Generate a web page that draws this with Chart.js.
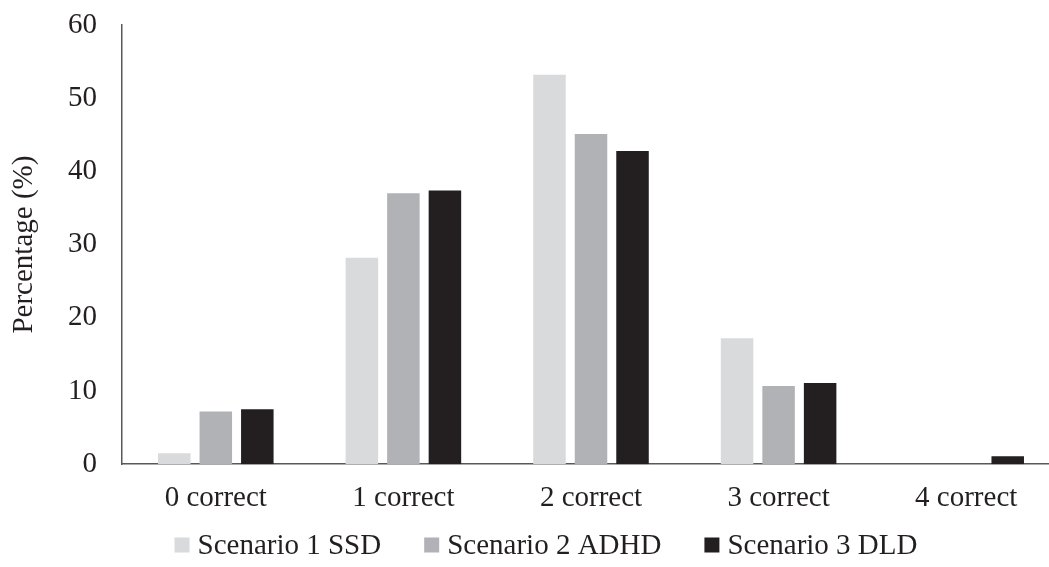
<!DOCTYPE html>
<html>
<head>
<meta charset="utf-8">
<script src="https://cdn.jsdelivr.net/npm/chart.js@4"></script>
<style>
  html, body { margin: 0; padding: 0; background: #ffffff; overflow: hidden; }
  #wrap { width: 1062px; height: 567px; }
</style>
</head>
<body>
<div id="wrap"><canvas id="chart" width="1062" height="567"></canvas></div>
<script>
// Share of respondents by number of correct answers, per scenario
const categories = ['0 correct', '1 correct', '2 correct', '3 correct', '4 correct'];
const seriesNames = ['Scenario 1 SSD', 'Scenario 2 ADHD', 'Scenario 3 DLD'];
const ssdValues = [1.5, 28.2, 53.2, 17.2, 0];
const adhdValues = [7.2, 37.0, 45.1, 10.7, 0];
const dldValues = [7.5, 37.4, 42.8, 11.1, 1.1];
const yTicks = [0, 10, 20, 30, 40, 50, 60];

const seriesColors = ['#d9dadc', '#b1b2b5', '#231f20'];
const fontFamily = '"Liberation Serif", "Times New Roman", serif';
const fontSize = 29;
const textColor = '#231f20';
const axisColor = '#595959';

const data = {
  labels: categories,
  datasets: [ssdValues, adhdValues, dldValues].map((vals, i) => ({
    label: seriesNames[i],
    data: vals,
    backgroundColor: seriesColors[i],
    borderWidth: 0,
    categoryPercentage: 0.664,
    barPercentage: 0.783
  }))
};

// Legend row under the axis: small square swatch followed by the series name
const bottomLegend = {
  id: 'bottomLegend',
  afterDraw(chart) {
    const ctx = chart.ctx;
    const box = 15, gap = 8, spacing = 43, rowY = 545, centerX = 546;
    ctx.save();
    ctx.font = fontSize + 'px ' + fontFamily;
    const items = chart.data.datasets.map(ds => ({
      text: ds.label,
      color: ds.backgroundColor,
      w: ctx.measureText(ds.label).width
    }));
    const total = items.reduce((s, it) => s + box + gap + it.w, 0) + spacing * (items.length - 1);
    let x = centerX - total / 2;
    ctx.textBaseline = 'middle';
    ctx.textAlign = 'left';
    items.forEach(it => {
      ctx.fillStyle = it.color;
      ctx.fillRect(x, rowY - box / 2, box, box);
      x += box + gap;
      ctx.fillStyle = textColor;
      ctx.fillText(it.text, x, rowY + 1);
      x += it.w + spacing;
    });
    ctx.restore();
  }
};

new Chart(document.getElementById('chart'), {
  type: 'bar',
  data: data,
  plugins: [bottomLegend],
  options: {
    responsive: false,
    animation: false,
    layout: { padding: { left: 0, right: 2, top: 25, bottom: 34 } },
    plugins: {
      tooltip: { enabled: false },
      legend: { display: false }
    },
    scales: {
      x: {
        grid: { display: false, drawTicks: false },
        border: { display: true, color: axisColor, width: 1.5 },
        ticks: {
          font: { family: fontFamily, size: fontSize },
          color: textColor,
          padding: 17,
          maxRotation: 0
        }
      },
      y: {
        min: 0,
        max: 60,
        afterBuildTicks: (scale) => { scale.ticks = yTicks.map(v => ({ value: v })); },
        afterFit: (scale) => { scale.width = 122; },
        // tick marks are hidden; their length only sets the gap between labels and axis
        grid: { display: false, drawTicks: true, tickLength: 25 },
        border: { display: true, color: axisColor, width: 1.5 },
        ticks: {
          font: { family: fontFamily, size: fontSize },
          color: textColor,
          padding: 0
        },
        title: {
          display: true,
          text: 'Percentage (%)',
          font: { family: fontFamily, size: fontSize },
          color: textColor,
          padding: { top: 7, bottom: 0 }
        }
      }
    }
  }
});
</script>
</body>
</html>
